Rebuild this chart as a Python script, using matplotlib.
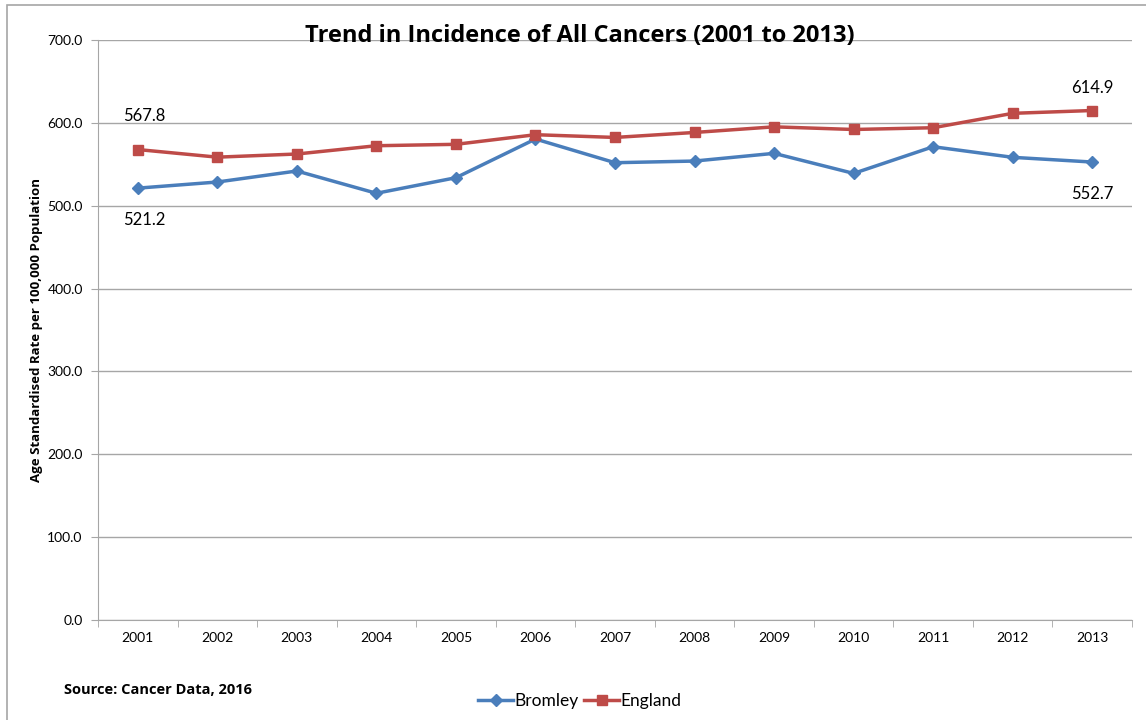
import matplotlib.pyplot as plt
from matplotlib.patches import Rectangle

plt.rcParams['font.family'] = ['Lato', 'DejaVu Sans']
BOLD = ['Open Sans', 'DejaVu Sans']

years = ['2001', '2002', '2003', '2004', '2005', '2006', '2007',
         '2008', '2009', '2010', '2011', '2012', '2013']
bromley = [521.2, 528.6, 541.9, 515.0, 533.8, 580.5, 551.9,
           553.9, 563.2, 539.0, 571.2, 558.4, 552.7]
england = [567.8, 558.6, 562.4, 572.4, 574.1, 585.7, 582.4,
           588.4, 595.2, 592.0, 594.1, 611.5, 614.9]

blue = '#4a7ebb'
red = '#be4b48'
grey = '#a6a6a6'

fig = plt.figure(figsize=(11.46, 7.2), dpi=100)
ax = fig.add_axes([98 / 1146, 100 / 720, 1034 / 1146, 580 / 720])

# outer chart frame (runs off right/bottom edges)
fig.patches.append(Rectangle((7 / 1146, -0.1), 1.2, 1 - 5 / 720 + 0.1,
                             transform=fig.transFigure, fill=False,
                             edgecolor=grey, lw=1.2))

x = list(range(len(years)))
ax.plot(x, bromley, color=blue, lw=2.5, marker='D', ms=6, label='Bromley', zorder=3)
ax.plot(x, england, color=red, lw=2.5, marker='s', ms=7, label='England', zorder=3)

ax.set_xlim(-0.5, len(years) - 0.5)
ax.set_ylim(0, 700)
ax.set_yticks(range(0, 701, 100))
ax.set_yticklabels(['%.1f' % v for v in range(0, 701, 100)], fontsize=10)
ax.set_xticks(x)
ax.set_xticklabels(years, fontsize=10)
ax.set_xticks([i - 0.5 for i in range(len(years) + 1)], minor=True)
ax.tick_params(axis='x', which='major', length=0, pad=9)
ax.tick_params(axis='x', which='minor', length=5, color=grey)
ax.tick_params(axis='y', length=5, color=grey, pad=6)
ax.grid(axis='y', color=grey, lw=1)
ax.set_axisbelow(True)
for s in ['top', 'right']:
    ax.spines[s].set_visible(False)
for s in ['left', 'bottom']:
    ax.spines[s].set_color(grey)

ax.set_ylabel('Age Standardised Rate per 100,000 Population', family=BOLD,
              fontsize=9.5, fontweight='bold', labelpad=3)

# data labels at ends
ax.annotate('%.1f' % england[0], (0, england[0]), xytext=(5, 24),
            textcoords='offset points', ha='center', va='center', fontsize=12)
ax.annotate('%.1f' % bromley[0], (0, bromley[0]), xytext=(5, -23),
            textcoords='offset points', ha='center', va='center', fontsize=12)
ax.annotate('%.1f' % england[-1], (12, england[-1]), xytext=(0, 16),
            textcoords='offset points', ha='center', va='center', fontsize=12)
ax.annotate('%.1f' % bromley[-1], (12, bromley[-1]), xytext=(0, -23),
            textcoords='offset points', ha='center', va='center', fontsize=12)

fig.text(580 / 1146, 1 - 36 / 720, 'Trend in Incidence of All Cancers (2001 to 2013)',
         ha='center', va='center', fontsize=17, fontweight='bold', family=BOLD)
fig.text(64 / 1146, 1 - 690 / 720, 'Source: Cancer Data, 2016', family=BOLD,
         ha='left', va='center', fontsize=10.5, fontweight='bold')

fig.legend(loc='center', bbox_to_anchor=(580 / 1146, 1 - 701 / 720), ncol=2,
           frameon=False, fontsize=12.5, handlelength=2.0, handletextpad=0.1,
           columnspacing=0.3)

fig.savefig('out.png', dpi=100)
